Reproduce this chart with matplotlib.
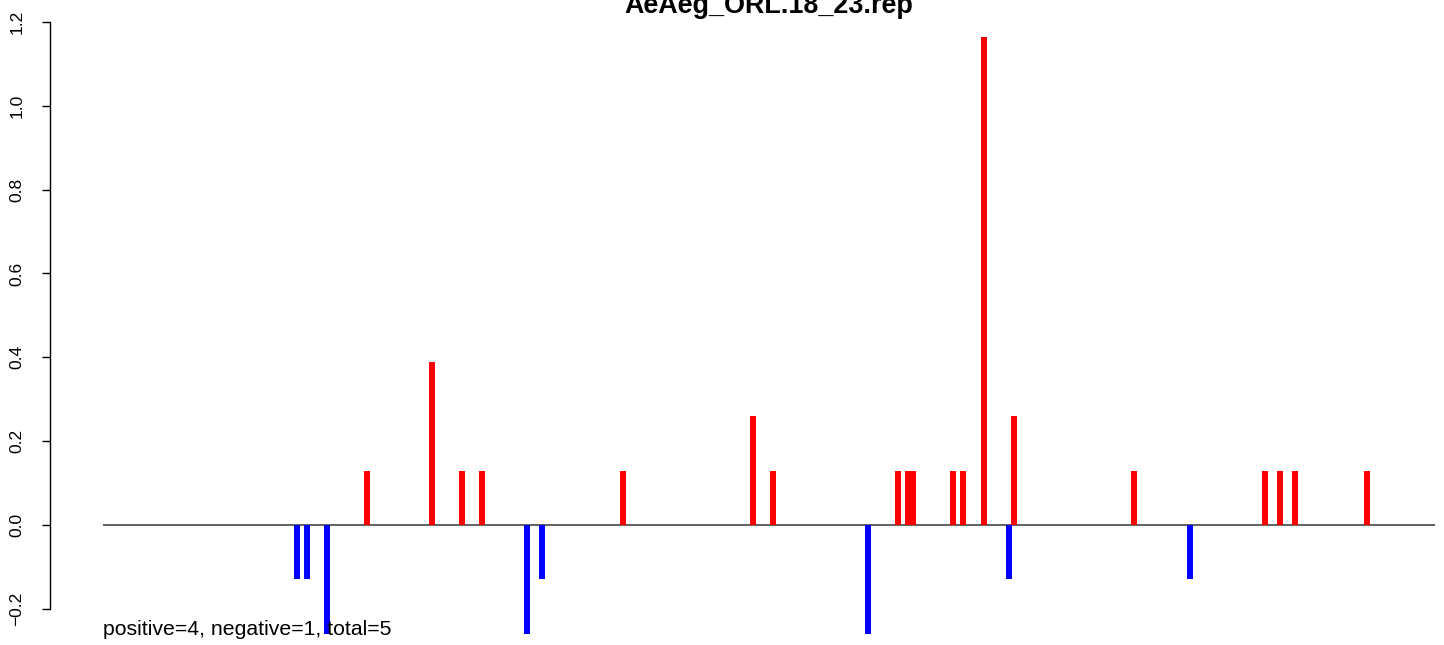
import matplotlib
matplotlib.use("Agg")
from matplotlib import pyplot as plt

plt.rcParams["font.family"] = ["Liberation Sans", "DejaVu Sans"]

title = "AeAeg_ORL.18_23.rep"
seq_length = 1332

# positive scores (red)
pos_x = [264, 329, 359, 379, 520, 650, 670, 795, 805, 810, 850, 860, 881, 911,
         1031, 1162, 1177, 1192, 1264]
pos_y = [0.129, 0.388, 0.129, 0.129, 0.129, 0.259, 0.129, 0.129, 0.129, 0.129,
         0.129, 0.129, 1.165, 0.259, 0.129, 0.129, 0.129, 0.129, 0.129]

# negative scores (blue)
neg_x = [194, 204, 224, 424, 439, 765, 906, 1087]
neg_y = [-0.129, -0.129, -0.259, -0.259, -0.129, -0.259, -0.129, -0.129]

summary = "positive=4, negative=1, total=5"

W, H = 1444, 645
fig = plt.figure(figsize=(W / 100, H / 100), dpi=100)

# plot region in pixels (R style, right part runs past the image edge)
left_px, right_px = 50, 1488
top_px, bottom_px = 14.8, 657.9
ax = fig.add_axes([left_px / W, (H - bottom_px) / H,
                   (right_px - left_px) / W, (bottom_px - top_px) / H])

pad = 0.04 * seq_length
ax.set_xlim(-pad, seq_length + pad)
ax.set_ylim(-0.317, 1.217)

ax.hlines(0, 0, seq_length, color="#555555", linewidth=1.3, zorder=1)
ax.vlines(pos_x, 0, pos_y, color="red", linewidth=4.3, capstyle="butt", zorder=2)
ax.vlines(neg_x, 0, neg_y, color="blue", linewidth=4.3, capstyle="butt", zorder=2)

ax.text(0, -0.262, summary, ha="left", va="baseline", fontsize=15.3)

# axis styling like R base graphics
for side in ["top", "right", "bottom"]:
    ax.spines[side].set_visible(False)
ax.spines["left"].set_bounds(-0.2, 1.2)
ax.spines["left"].set_linewidth(1.0)
ax.set_xticks([])
yt = [-0.2, 0.0, 0.2, 0.4, 0.6, 0.8, 1.0, 1.2]
ax.set_yticks(yt)
ax.set_yticklabels(["\u22120.2" if v < 0 else f"{v:.1f}" for v in yt],
                   rotation=90, va="center", fontsize=12.5)
ax.tick_params(axis="y", length=6, width=1.0, pad=12.5)
ax.patch.set_visible(False)

fig.text((left_px + right_px) / 2 / W, 1 - 13 / H, title, ha="center",
         va="baseline", fontsize=19.4, fontweight="bold")

fig.savefig("out.png", dpi=100)
